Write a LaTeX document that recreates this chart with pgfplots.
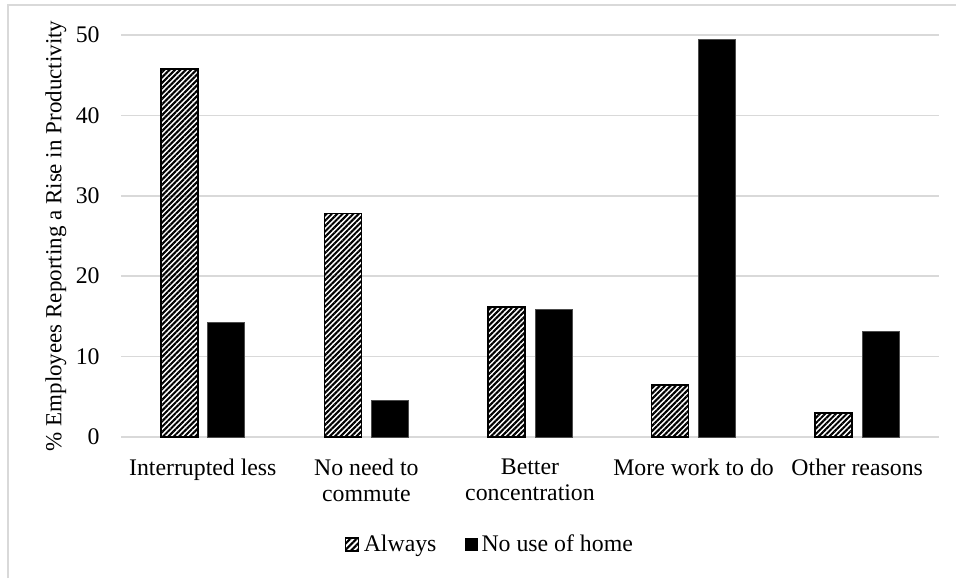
\documentclass[border=0pt]{standalone}
\usepackage{fontspec}
\setmainfont{Liberation Serif}
\usepackage{pgfplots}
\pgfplotsset{compat=1.18}
\usetikzlibrary{patterns.meta}
\definecolor{gridgray}{RGB}{217,217,217}
\begin{document}
\begin{tikzpicture}[x=1pt,y=1pt]
\useasboundingbox (0,0) rectangle (478,289);
\draw[gridgray, line width=0.8pt] (4,0) -- (4,286.5) -- (478,286.5);
\begin{axis}[
  at={(60.5pt,70.5pt)}, anchor=south west,
  scale only axis, width=409pt, height=201pt,
  xmin=-0.5, xmax=4.5, ymin=0, ymax=50,
  ytick={0,10,20,30,40,50},
  xtick={0,1,2,3,4},
  xticklabels={Interrupted less,{No need to\\commute},{Better\\concentration},More work to do,Other reasons},
  ybar=5pt, bar width=18.5pt,
  axis line style={draw=none},
  major tick length=0pt,
  ymajorgrids, grid style={gridgray, line width=0.8pt},
  /pgf/number format/assume math mode=true,
  tick label style={font=\fontsize{11.9}{13}\selectfont},
  yticklabel style={anchor=east, inner sep=0pt, xshift=-10.5pt},
  xticklabel style={anchor=north, inner sep=0pt, yshift=-11pt, align=center},
  ylabel={\% Employees Reporting a Rise in Productivity},
  ylabel style={font=\fontsize{11.5}{13}\selectfont, at={(axis description cs:-0.0795,0.5)}, anchor=center},
  legend style={at={(axis description cs:0.452,-0.2687)}, anchor=center, draw=none, legend columns=2,
    font=\fontsize{11.9}{13}\selectfont, inner sep=0pt,
    /tikz/every even column/.append style={column sep=12pt}},
  legend cell align=left,
]
\addplot[draw=black, line width=0.8pt, pattern={Lines[angle=45, distance=1.9pt, line width=1.05pt]},
  legend image code/.code={\draw[black, line width=0.7pt, pattern={Lines[angle=45, distance=2.2pt, line width=1.1pt]}] (0pt,-3pt) rectangle (6.5pt,3.5pt);}]
  coordinates {(0,45.8) (1,27.8) (2,16.2) (3,6.5) (4,3.0)};
\addlegendentry{Always}
\addplot[draw=black!70, fill=black, line width=0.5pt,
  legend image code/.code={\fill[black] (0pt,-2.5pt) rectangle (6pt,3.5pt);}]
  coordinates {(0,14.3) (1,4.6) (2,15.9) (3,49.4) (4,13.1)};
\addlegendentry{No use of home}
\end{axis}
\end{tikzpicture}
\end{document}
